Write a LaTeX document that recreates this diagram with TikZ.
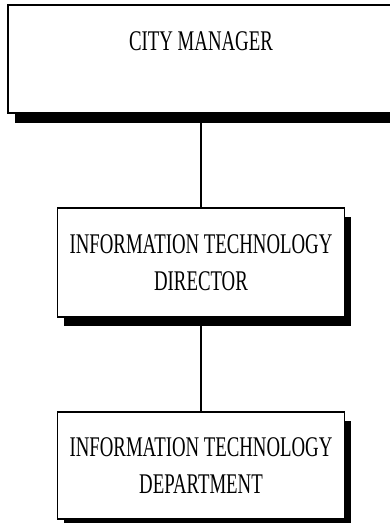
\documentclass[tikz,border=0pt]{standalone}
\usepackage{fontspec}
\setmainfont{Liberation Serif}[FakeStretch=0.66]
\usepackage{tikz}
\usetikzlibrary{shapes, shadows, positioning}

\tikzset{
    orgbox/.style={rectangle, draw=black, line width=1.8pt, fill=white, text centered, align=center,
        font=\fontsize{28.5}{37}\selectfont,
        drop shadow={shadow xshift=6.5pt, shadow yshift=-9.5pt, fill=black, opacity=1}},
    orgline/.style={line width=1.5pt}
}

\begin{document}
\begin{tikzpicture}[node distance=93pt, auto]
    \useasboundingbox (0pt,0pt) rectangle (389pt,-523pt);
    % Define nodes
    \node (manager) at (201pt,-59pt) [orgbox, minimum width=386pt, minimum height=108pt] {CITY MANAGER\\[-12pt]\strut};
    \node (director) [below=of manager, orgbox, minimum width=287pt, minimum height=109pt] {INFORMATION TECHNOLOGY\\DIRECTOR};
    \node (department) [below=of director, orgbox, minimum width=287pt, minimum height=107pt] {INFORMATION TECHNOLOGY\\DEPARTMENT};

    % Connect nodes
    \draw[orgline] (manager) -- (director);
    \draw[orgline] (director) -- (department);
\end{tikzpicture}
\end{document}
